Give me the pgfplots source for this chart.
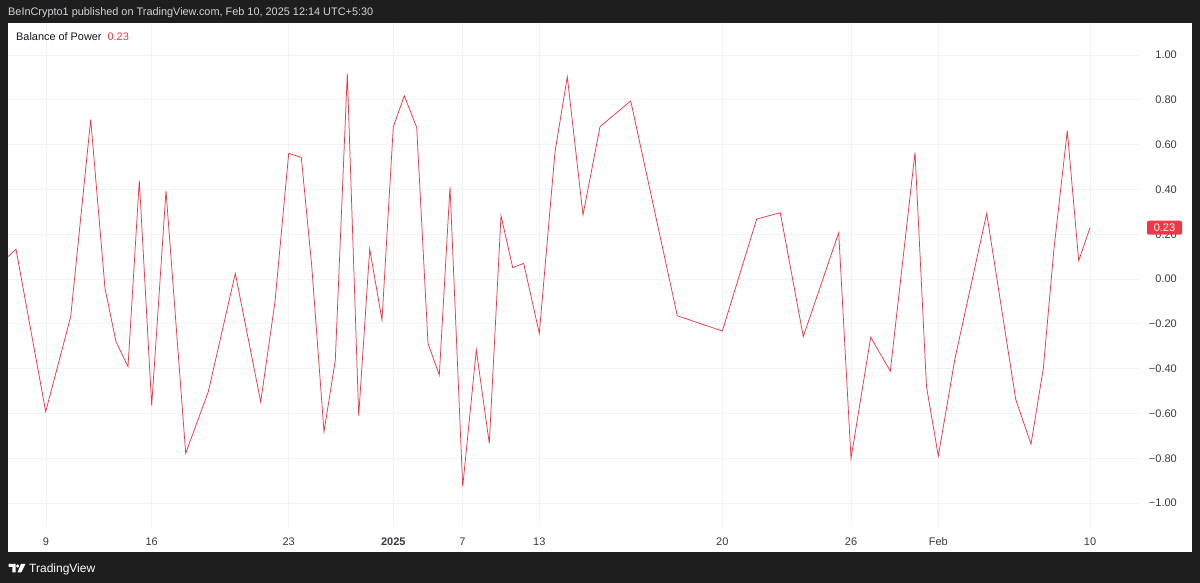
\documentclass[border=0pt]{standalone}
\usepackage{pgfplots}
\pgfplotsset{compat=1.18}
\usepackage{fontspec}
\setmainfont{Liberation Sans}
\definecolor{bg}{HTML}{1E1E1E}
\definecolor{bop}{HTML}{F23645}
\definecolor{txt}{HTML}{131722}
\definecolor{grd}{HTML}{F0F3FA}
\definecolor{hdr}{HTML}{D1D4DC}

\pgfplotstableread{
x      v
8      0.100
16     0.133
45.7  -0.592
70.7  -0.168
90.7   0.713
105   -0.042
116   -0.280
128   -0.391
139.3  0.439
151.7 -0.565
166    0.394
185.7 -0.778
208.3 -0.503
235.3  0.025
260.7 -0.548
275   -0.101
288.7  0.561
301.3  0.543
311.7  0.060
324   -0.682
335.3 -0.362
347.3  0.918
358.7 -0.610
369.7  0.134
382   -0.183
393.3  0.680
404.3  0.818
416.7  0.677
428   -0.287
439.3 -0.429
450    0.412
462.7 -0.927
476.3 -0.317
489.3 -0.734
501    0.283
512.7  0.051
523.7  0.070
539.3 -0.243
555    0.568
567.3  0.903
583    0.286
600    0.680
630.7  0.795
677.3 -0.164
722.3 -0.232
756.7  0.268
780.3  0.296
803.3 -0.257
838.7  0.207
851   -0.801
870.7 -0.260
890.3 -0.411
915    0.565
926.5 -0.481
938.3 -0.790
955   -0.354
986.7  0.293
1015.7 -0.537
1031  -0.737
1043.3 -0.399
1054   0.137
1067.3 0.662
1078.7 0.082
1090   0.229
}\bopdata

\begin{document}
\begin{tikzpicture}[x=1pt,y=1pt]
% frame
\fill[bg] (0,0) rectangle (1200,583);
\fill[white] (8,31) rectangle (1192,560);
\node[anchor=base west, text=hdr, inner sep=0, font=\fontsize{10.9}{12}\selectfont]
  at (8,567) {BeInCrypto1 published on TradingView.com, Feb 10, 2025 12:14 UTC+5:30};

\begin{axis}[
    at={(8pt,56pt)}, anchor=south west,
    scale only axis, width=1132pt, height=504pt,
    xmin=8, xmax=1140, ymin=-1.107, ymax=1.143,
    clip=false,
    axis line style={draw=none},
    major tick length=0pt,
    xtick={46,151.7,288.7,393.3,462.5,539.3,722.3,851,938.3,1090},
    xticklabels={9,16,23,\textbf{2025},7,13,20,26,Feb,10},
    ytick={-1,-0.8,-0.6,-0.4,-0.2,0,0.2,0.4,0.6,0.8,1},
    yticklabels={−1.00,−0.80,−0.60,−0.40,−0.20,0.00,0.20,0.40,0.60,0.80,1.00},
    yticklabel pos=right,
    grid=major,
    major grid style={draw=grd, line width=0.8pt},
    tick label style={text=txt!85, font=\fontsize{11}{12}\selectfont},
    xticklabel style={anchor=base, inner sep=0pt, yshift=-19pt},
    yticklabel style={anchor=east, inner sep=0pt, xshift=37pt},
]
\addplot[bop, line width=0.75pt, line join=miter, mark=none] table[x=x, y=v] {\bopdata};
\coordinate (badge) at (axis cs:1164.5,0.229);
\end{axis}

% last value badge
\node[fill=bop, text=white, rounded corners=2pt, minimum width=35pt, minimum height=14pt,
      inner sep=0pt, font=\fontsize{11}{12}\selectfont] at (badge) {0.23};

% legend
\node[anchor=base west, inner sep=0, text=txt, font=\fontsize{10.9}{12}\selectfont]
  at (16,542) {Balance of Power\hspace{6pt}\textcolor{bop}{0.23}};

% footer logo and name
\fill[white] (8.5,19) rectangle (15.5,16) (12.3,16) rectangle (15.5,10.5);
\fill[white] (17.6,17) circle (1.7);
\fill[white] (21,19) -- (25.5,19) -- (21.2,10.5) -- (17.4,10.5) -- cycle;
\node[anchor=base west, inner sep=0, text=white, font=\fontsize{12}{14}\selectfont]
  at (29,10.5) {TradingView};
\end{tikzpicture}
\end{document}
